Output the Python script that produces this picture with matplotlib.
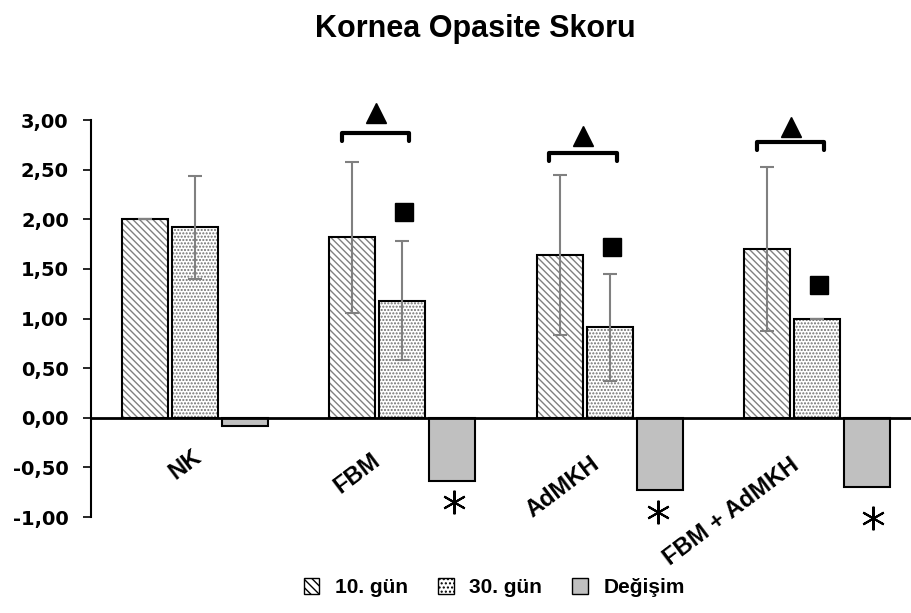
import numpy as np
import matplotlib
matplotlib.use('Agg')
import matplotlib.pyplot as plt
from matplotlib.patches import Patch

plt.rcParams['font.family'] = ['Liberation Sans', 'DejaVu Sans']
plt.rcParams['font.weight'] = 'bold'
plt.rcParams['hatch.linewidth'] = 1.0

# Veriler
gruplar = ['NK', 'FBM', 'AdMKH', 'FBM + AdMKH']
gun10 = [2.00, 1.82, 1.64, 1.70]
gun10_sd = [0.00, 0.76, 0.81, 0.83]
gun30 = [1.92, 1.18, 0.91, 1.00]
gun30_sd = [0.52, 0.60, 0.54, 0.00]
degisim = [-0.08, -0.64, -0.73, -0.70]

# İşaretler (anlamlılık)
ucgen_y = [None, 3.07, 2.84, 2.93]
parantez_y = [None, 2.87, 2.67, 2.78]
kare_y = [None, 2.07, 1.72, 1.34]
yildiz_y = [None, -0.85, -0.95, -1.01]

x = np.arange(len(gruplar))
w = 0.222
d = 0.241

# etiket konumları (metnin sağ ucu)
etiket_dx = [0.02, -0.12, -0.06, -0.10]
etiket_y = [-0.37, -0.40, -0.44, -0.45]
yildiz_dx = [0, 0.01, -0.01, 0.03]

fig = plt.figure(figsize=(9.12, 6.13), dpi=100)
ax = fig.add_axes([0.0998, 0.1566, 0.9002, 0.6476])

# desenli çubuklar (gri desen, siyah kenar)
ax.bar(x - d, gun10, w, color='white', edgecolor='#808080', hatch='\\\\\\\\\\', lw=0)
ax.bar(x, gun30, w, color='white', edgecolor='#707070', hatch='.....', lw=0)
ax.bar(x - d, gun10, w, color='none', edgecolor='black', lw=1.5)
ax.bar(x, gun30, w, color='none', edgecolor='black', lw=1.5)
ax.bar(x + d, degisim, w, color='#c0c0c0', edgecolor='black', lw=1.5)

ax.errorbar(x - d, gun10, yerr=gun10_sd, fmt='none', ecolor='#808080', elinewidth=1.5, capsize=5, capthick=1.5)
ax.errorbar(x, gun30, yerr=gun30_sd, fmt='none', ecolor='#808080', elinewidth=1.5, capsize=5, capthick=1.5)

ax.axhline(0, color='black', lw=2, zorder=5)

for i in range(1, 4):
    x0 = x[i] - d - 0.05
    x1 = x[i] + 0.035
    ax.plot([x0, x0, x1, x1], [parantez_y[i] - 0.08, parantez_y[i], parantez_y[i], parantez_y[i] - 0.08],
            color='black', lw=3, solid_capstyle='round', solid_joinstyle='round', clip_on=False)
    ax.plot((x0 + x1) / 2, ucgen_y[i], marker='^', color='black', ms=15, clip_on=False)
    ax.plot(x[i] + 0.01, kare_y[i], marker='s', color='black', ms=13)
    ax.plot(x[i] + d + yildiz_dx[i], yildiz_y[i], marker=(6, 2, 0), color='black', ms=17, mew=1.5,
            clip_on=False)

for i, g in enumerate(gruplar):
    ax.text(x[i] + etiket_dx[i], etiket_y[i], g, rotation=37, rotation_mode='anchor', ha='right',
            va='center', fontsize=17, fontweight='bold')

ax.set_xlim(-0.5, 3.457)
ax.set_ylim(-1, 3)
yt = np.arange(-1, 3.01, 0.5)
ax.set_yticks(yt)
ax.set_yticklabels([f'{v:.2f}'.replace('.', ',') for v in yt], family='DejaVu Sans', fontweight='bold')
ax.tick_params(axis='y', labelsize=14, direction='out', length=6, width=1.2, pad=10)
ax.set_xticks([])
for s in ['top', 'right', 'bottom']:
    ax.spines[s].set_visible(False)
ax.spines['left'].set_linewidth(1.5)

fig.suptitle('Kornea Opasite Skoru', x=0.521, y=0.953, va='center', fontsize=22, fontweight='bold')

h = [Patch(facecolor='white', edgecolor='black', hatch='\\\\\\\\', lw=1),
     Patch(facecolor='white', edgecolor='black', hatch='....', lw=1),
     Patch(facecolor='#c0c0c0', edgecolor='black', lw=1)]
fig.legend(h, ['10. gün', '30. gün', 'Değişim'], loc='center', bbox_to_anchor=(0.542, 0.041), ncol=3,
           frameon=False, fontsize=15, handlelength=0.75, handleheight=0.75, columnspacing=1.45,
           handletextpad=0.75)

fig.savefig('out.png', dpi=100)
